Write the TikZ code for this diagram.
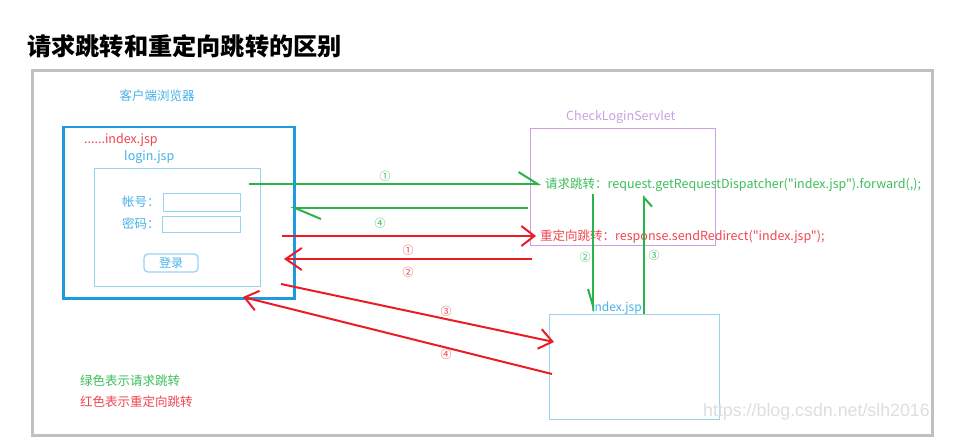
\documentclass[tikz,border=0pt]{standalone}
\usepackage{fontspec}
\setmainfont{Noto Sans CJK SC}[Ligatures=TeXOff]
\newfontfamily\wmfont{Liberation Sans}
\usetikzlibrary{arrows.meta}
\definecolor{frame}{RGB}{192,192,192}
\definecolor{bblue}{RGB}{30,155,224}
\definecolor{lblue}{RGB}{150,212,242}
\definecolor{tblue}{RGB}{70,178,232}
\definecolor{lgreen}{RGB}{40,180,72}
\definecolor{tgreen}{RGB}{60,190,90}
\definecolor{lred}{RGB}{237,28,36}
\definecolor{tred}{RGB}{240,70,80}
\definecolor{purp}{RGB}{205,160,225}
\definecolor{wm}{RGB}{222,222,222}
\tikzset{
  box/.style={inner sep=0pt, anchor=north west},
  txt/.style={inner sep=0pt, font=\fontsize{12.5}{12.5}\selectfont},
  code/.style={inner sep=0pt, font=\fontsize{12.5}{12.5}\selectfont},
  num/.style={inner sep=0pt, font=\fontsize{11}{11}\selectfont},
  gline/.style={draw=lgreen, line width=2pt},
  rline/.style={draw=lred, line width=2pt},
  rhead/.style={-{Straight Barb[length=13pt,width=20pt]}},
}
\begin{document}
\begin{tikzpicture}[x=1pt,y=-1pt]
\useasboundingbox (0,0) rectangle (972,441);
\fill[white] (0,0) rectangle (972,441);
% title
\node[inner sep=0pt, anchor=west, font=\fontsize{24.2}{24.2}\selectfont\bfseries] (title) at (27,46) {请求跳转和重定向跳转的区别};
% outer frame
\node[box, draw=frame, line width=3pt, minimum width=900pt, minimum height=365pt] (frm) at (31,69) {};
% browser
\node[txt, text=tblue] (brlbl) at (157,96) {客户端浏览器};
\node[box, draw=bblue, line width=2.5pt, minimum width=231pt, minimum height=171pt] (browser) at (62,126) {};
\node[txt, text=tred, anchor=west] (idx1) at (84,140) {......index.jsp};
\node[txt, text=tblue, anchor=west] (loginlbl) at (124,157) {login.jsp};
\node[box, draw=lblue, line width=1.3pt, minimum width=166pt, minimum height=118pt] (login) at (94,168) {};
\node[txt, text=tblue, anchor=west] (acc) at (122,202) {帐号：};
\node[txt, text=tblue, anchor=west] (pwd) at (122,224) {密码：};
\node[box, draw=lblue, line width=1.3pt, minimum width=77pt, minimum height=18pt] (accin) at (163,193) {};
\node[box, draw=lblue, line width=1.3pt, minimum width=78pt, minimum height=16pt] (pwdin) at (162,216) {};
\node[draw=lblue, line width=1.3pt, rounded corners=4pt, minimum width=54pt, minimum height=18pt, inner sep=0pt, text=tblue, font=\fontsize{12}{12}\selectfont] (btn) at (171,263) {登录};
% servlet
\node[txt, text=purp, anchor=west] (svlbl) at (566,117) {CheckLoginServlet};
\node[box, draw=purp, line width=1pt, minimum width=185pt, minimum height=117pt] (servlet) at (530,128) {};
\node[code, text=tgreen, anchor=west] (fwd) at (545,185) {请求跳转：request.getRequestDispatcher("index.jsp").forward(,);};
\node[code, text=tred, anchor=west] (red) at (540,237) {重定向跳转：response.sendRedirect("index.jsp");};
% index.jsp
\node[box, draw=lblue, line width=1.3pt, minimum width=170pt, minimum height=105pt] (index) at (549,314) {};
\node[inner sep=0pt, font=\fontsize{12}{12}\selectfont, text=tblue, anchor=west] (idxlbl) at (591,308) {index.jsp};
% legend
\node[txt, text=tgreen, anchor=west] (lg1) at (80,381) {绿色表示请求跳转};
\node[txt, text=tred, anchor=west] (lg2) at (80,402) {红色表示重定向跳转};
% watermark
\node[inner sep=0pt, anchor=east, text=wm, font=\wmfont\fontsize{17.8}{17.8}\selectfont] (wmk) at (930,412) {https://blog.csdn.net/slh2016};
% coordinates
\coordinate (g1a) at (249,184); \coordinate (g1b) at (541,184);
\coordinate (g4a) at (528,208); \coordinate (g4b) at (290,208);
\coordinate (r1a) at (282,236); \coordinate (r1b) at (536,236);
\coordinate (r2a) at (532,259); \coordinate (r2b) at (284,259);
\coordinate (g2a) at (593,194); \coordinate (g2b) at (593,313);
\coordinate (g3a) at (644,314); \coordinate (g3b) at (644,195);
\coordinate (r3a) at (281,284); \coordinate (r3b) at (554,342);
\coordinate (r4a) at (552,374); \coordinate (r4b) at (243,297);
% arrows
\draw[gline, -{Straight Barb[left,length=19pt,width=24pt]}] (g1a) -- (g1b);
\draw[gline, -{Straight Barb[left,length=26pt,width=22pt]}] (g4a) -- (g4b);
\draw[gline, -{Straight Barb[right,length=17pt,width=10pt]}] (g2a) -- (g2b);
\draw[gline, -{Straight Barb[right,length=9pt,width=16pt]}] (g3a) -- (g3b);
\draw[rline, rhead] (r1a) -- (r1b);
\draw[rline, -{Straight Barb[length=16pt,width=22pt]}] (r2a) -- (r2b);
\draw[rline, rhead] (r3a) -- (r3b);
\draw[rline, rhead] (r4a) -- (r4b);
% numbers
\node[num, text=tgreen] (n1) at (385,176) {①};
\node[num, text=tgreen] (n4) at (380,223) {④};
\node[num, text=tred] (n1r) at (408,250) {①};
\node[num, text=tred] (n2r) at (408,272) {②};
\node[num, text=tgreen] (n2g) at (585,257) {②};
\node[num, text=tgreen] (n3g) at (654,255) {③};
\node[num, text=tred] (n3r) at (446,311) {③};
\node[num, text=tred] (n4r) at (446,354) {④};
\end{tikzpicture}
\end{document}
